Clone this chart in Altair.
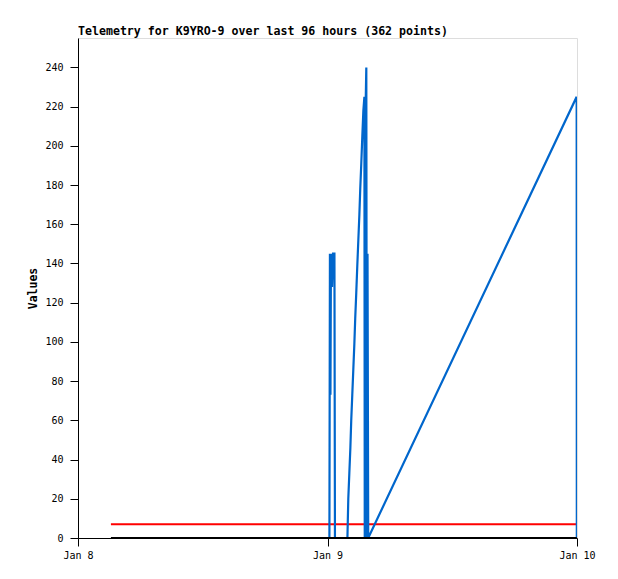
import altair as alt
import pandas as pd

# ---- data ----
blue_times = [
    "2024-01-09T00:11", "2024-01-09T00:14", "2024-01-09T00:17", "2024-01-09T00:20",
    "2024-01-09T00:26", "2024-01-09T00:32", "2024-01-09T00:40", "2024-01-09T00:43",
    "2024-01-09T01:55", "2024-01-09T02:00", "2024-01-09T02:06", "2024-01-09T02:12",
    "2024-01-09T02:17", "2024-01-09T02:23", "2024-01-09T02:29", "2024-01-09T02:35",
    "2024-01-09T02:40", "2024-01-09T02:46", "2024-01-09T02:52", "2024-01-09T02:58",
    "2024-01-09T03:04", "2024-01-09T03:09", "2024-01-09T03:15", "2024-01-09T03:21",
    "2024-01-09T03:27", "2024-01-09T03:33", "2024-01-09T03:35", "2024-01-09T03:38",
    "2024-01-09T03:41", "2024-01-09T03:44", "2024-01-09T03:47", "2024-01-09T03:51",
    "2024-01-09T03:55", "2024-01-09T23:58", "2024-01-09T23:59",
]
blue_values = [
    0, 145, 73, 145,
    128, 145, 145, 0,
    0, 20, 33, 46,
    60, 73, 86, 99,
    112, 125, 139, 152,
    165, 178, 191, 205,
    218, 225, 0, 112,
    225, 240, 0, 145,
    0, 225, 0,
]
flat_times = ["2024-01-08T03:10", "2024-01-09T23:59"]
red_values = [7, 7]
black_values = [0, 0]

y_ticks = [0, 20, 40, 60, 80, 100, 120, 140, 160, 180, 200, 220, 240]
x_ticks = [alt.DateTime(year=2024, month=1, date=d) for d in (8, 9, 10)]
x_domain = [alt.DateTime(year=2024, month=1, date=8), alt.DateTime(year=2024, month=1, date=10)]
y_domain = [0, 255]

title_text = "Telemetry for K9YRO-9 over last 96 hours (362 points)"

blue_df = pd.DataFrame({"t": blue_times, "v": blue_values})
red_df = pd.DataFrame({"t": flat_times, "v": red_values})
black_df = pd.DataFrame({"t": flat_times, "v": black_values})

FONT = "DejaVu Sans Mono"

x_enc = alt.X(
    "t:T",
    scale=alt.Scale(domain=x_domain, nice=False),
    axis=alt.Axis(
        values=x_ticks, format="%b %-d", title=None, grid=False,
        tickSize=8, labelPadding=4, labelFont=FONT, labelFontSize=10,
        labelColor="black", tickColor="black", domainColor="black",
        labelFlush=False, labelOverlap=False,
    ),
)
y_enc = alt.Y(
    "v:Q",
    scale=alt.Scale(domain=y_domain, nice=False, zero=True),
    axis=alt.Axis(
        values=y_ticks, title="Values", grid=False,
        tickSize=8, labelPadding=7, labelFont=FONT, labelFontSize=10,
        labelColor="black", tickColor="black", domainColor="black",
        titleFont=FONT, titleFontSize=11.5, titleFontWeight="bold",
        titleColor="black", titlePadding=6,
    ),
)

red = alt.Chart(red_df).mark_line(color="#ff0000", strokeWidth=2, clip=True).encode(x=x_enc, y=y_enc)
blue = alt.Chart(blue_df).mark_line(color="#0066cc", strokeWidth=2.2, clip=True).encode(x=x_enc, y=y_enc)
black = alt.Chart(black_df).mark_line(color="#000000", strokeWidth=2, clip=True).encode(x=x_enc, y=y_enc)

chart = (
    alt.layer(red, blue, black)
    .properties(
        width=499,
        height=500,
        title=alt.TitleParams(
            title_text, anchor="start", frame="group", font=FONT, fontSize=11.6,
            fontWeight="bold", color="black", offset=0,
        ),
        autosize=alt.AutoSizeParams(type="none"),
        padding={"left": 70, "top": 30, "right": 33, "bottom": 33},
    )
    .configure_view(stroke="#444444", strokeWidth=1)
    .configure(background="white")
)

chart.save("out.html", embed_options={"renderer": "svg", "actions": False})
